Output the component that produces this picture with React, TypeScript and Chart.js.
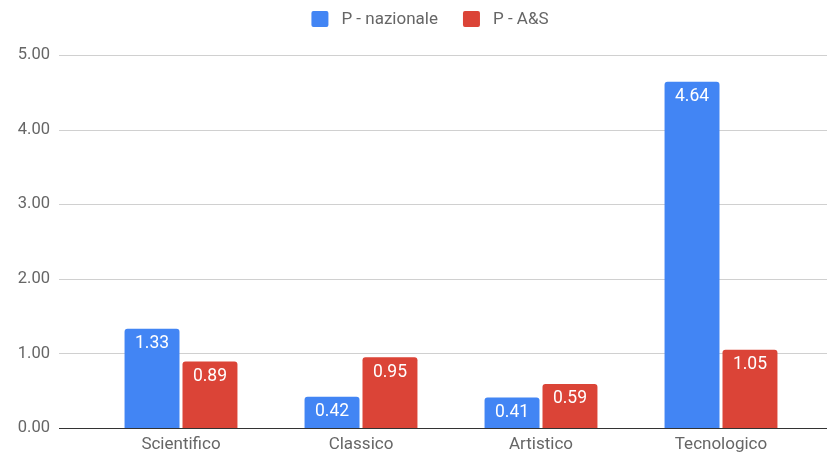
import React, { useEffect, useRef } from "react";
import { Chart, registerables } from "chart.js";

Chart.register(...registerables);

const categories = ["Scientifico", "Classico", "Artistico", "Tecnologico"];
const nazionale = [1.33, 0.42, 0.41, 4.64];
const aes = [0.89, 0.95, 0.59, 1.05];
const seriesLabels = ["P - nazionale", "P - A&S"];
const seriesColors = ["#4285F4", "#DB4437"];

const FONT = "Roboto, 'Noto Sans', sans-serif";

const gridPlugin = {
  id: "extGrid",
  beforeDatasetsDraw(chart: any) {
    const { ctx } = chart;
    const y = chart.scales.y;
    ctx.save();
    ctx.strokeStyle = "#d0d0d0";
    ctx.lineWidth = 1;
    y.ticks.forEach((t: any) => {
      if (t.value === 0) return;
      const py = Math.round(y.getPixelForValue(t.value)) + 0.5;
      ctx.beginPath();
      ctx.moveTo(59, py);
      ctx.lineTo(chart.width, py);
      ctx.stroke();
    });
    ctx.restore();
  },
  afterDatasetsDraw(chart: any) {
    const { ctx } = chart;
    const y = chart.scales.y;
    ctx.save();
    const py = Math.round(y.getPixelForValue(0)) + 0.5;
    ctx.strokeStyle = "#333333";
    ctx.lineWidth = 1.2;
    ctx.beginPath();
    ctx.moveTo(59, py);
    ctx.lineTo(chart.width, py);
    ctx.stroke();
    ctx.fillStyle = "#ffffff";
    ctx.font = `17.5px ${FONT}`;
    ctx.textAlign = "center";
    ctx.textBaseline = "middle";
    chart.data.datasets.forEach((ds: any, di: number) => {
      const meta = chart.getDatasetMeta(di);
      meta.data.forEach((bar: any, i: number) => {
        const v = ds.data[i];
        ctx.fillText(v.toFixed(2), bar.x, bar.y + 15);
      });
    });
    ctx.restore();
  },
  afterDraw(chart: any) {
    const { ctx } = chart;
    ctx.save();
    ctx.font = `17px ${FONT}`;
    const box = 17;
    const gap = 13;
    const itemGap = 25;
    const widths = chart.data.datasets.map((d: any) => ctx.measureText(d.label).width);
    const total = widths.reduce((a: number, w: number) => a + box + gap + w, 0) + itemGap * (widths.length - 1);
    let x = 430 - total / 2;
    const cy = 19;
    chart.data.datasets.forEach((d: any, i: number) => {
      ctx.fillStyle = d.backgroundColor;
      ctx.beginPath();
      (ctx as any).roundRect(x, cy - 8, box, 16, 2);
      ctx.fill();
      x += box + gap;
      ctx.fillStyle = "#666666";
      ctx.textAlign = "left";
      ctx.textBaseline = "middle";
      ctx.fillText(d.label, x, cy + 1);
      x += widths[i] + itemGap;
    });
    ctx.restore();
  },
};

export default function App() {
  const ref = useRef<HTMLCanvasElement | null>(null);
  useEffect(() => {
    if (!ref.current) return;
    const chart = new Chart(ref.current, {
      type: "bar",
      data: {
        labels: categories,
        datasets: [nazionale, aes].map((data, i) => ({
          label: seriesLabels[i],
          data,
          backgroundColor: seriesColors[i],
          borderRadius: { topLeft: 3, topRight: 3, bottomLeft: 0, bottomRight: 0 },
          borderSkipped: false,
          barPercentage: 0.948,
          categoryPercentage: 0.644,
        })),
      },
      options: {
        responsive: false,
        animation: false,
        layout: { padding: { top: 55, right: 16, bottom: 0, left: 0 } },
        plugins: {
          legend: { display: false },
          tooltip: { enabled: false },
        },
        scales: {
          x: {
            grid: { display: false, drawTicks: false },
            border: { display: false },
            ticks: { color: "#666666", font: { family: FONT, size: 17 }, padding: 7 },
            afterFit: (s: any) => {
              s.height = 25;
              s.paddingLeft = 0;
              s.paddingRight = 0;
            },
          },
          y: {
            min: 0,
            max: 5,
            grid: { display: false, drawTicks: false },
            border: { display: false },
            ticks: {
              stepSize: 1,
              color: "#666666",
              font: { family: FONT, size: 16.5 },
              padding: 41,
              callback: (v: any) => Number(v).toFixed(2),
            },
            afterFit: (s: any) => {
              s.width = 91;
              s.paddingTop = 0;
              s.paddingBottom = 0;
            },
          },
        },
      },
      plugins: [gridPlugin],
    });
    return () => chart.destroy();
  }, []);
  return (
    <div style={{ position: "absolute", left: 0, top: 0, width: 827, height: 453 }}>
      <canvas ref={ref} width={827} height={453} />
    </div>
  );
}
